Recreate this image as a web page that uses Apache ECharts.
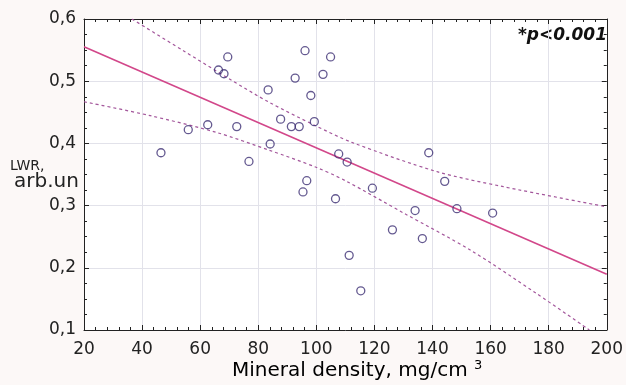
<!DOCTYPE html>
<html>
<head>
<meta charset="utf-8">
<script src="https://cdn.jsdelivr.net/npm/echarts@6/dist/echarts.min.js"></script>
<style>
  html, body { margin: 0; padding: 0; background: #fcf8f7; }
  #chart { width: 626px; height: 385px; }
</style>
</head>
<body>
<div id="chart"></div>
<script>
// 数据：矿物密度 vs LWR
var density = [46.5, 55.9, 62.6, 66.3, 68.2, 69.5, 72.6, 76.8, 83.4, 84.1, 87.7, 91.4,
  92.7, 94.1, 96.1, 98.1, 99.3, 102.3, 104.9, 107.7, 110.6, 96.7, 95.4, 106.6,
  119.3, 126.2, 111.3, 115.3, 134.0, 136.5, 144.2, 148.4, 160.7, 138.7];
var lwr = [0.385, 0.422, 0.430, 0.518, 0.512, 0.539, 0.427, 0.371, 0.486, 0.399, 0.439, 0.427,
  0.505, 0.427, 0.549, 0.477, 0.435, 0.511, 0.539, 0.383, 0.370, 0.340, 0.322, 0.311,
  0.328, 0.261, 0.220, 0.163, 0.292, 0.247, 0.339, 0.295, 0.288, 0.385];

// 回归线（两端点）
var fitX = [20, 200];
var fitY = [0.5555, 0.1895];

// 置信带
var upperX = [36.5, 54.2, 70.1, 83.8, 99.7, 112.2, 141.6, 164.4, 200];
var upperY = [0.6, 0.549, 0.5035, 0.466, 0.4285, 0.4017, 0.3545, 0.3304, 0.298];
var lowerX = [20, 42.8, 65.5, 83.8, 99.7, 110, 130.2, 153, 175.7, 194];
var lowerY = [0.467, 0.4446, 0.4178, 0.389, 0.362, 0.340, 0.2876, 0.2286, 0.159, 0.1];

function pairs(xs, ys) {
  return xs.map(function (x, i) { return [x, ys[i]]; });
}

var chart = echarts.init(document.getElementById('chart'));

var font = 'DejaVu Sans';
var axisColor = '#222';
var gridColor = '#e2e2ea';

function xAx(pos, labels) {
  return {
    type: 'value', position: pos, min: 20, max: 200, interval: 20,
    axisLine: { show: true, onZero: false, lineStyle: { color: axisColor, width: 1 } },
    axisTick: { show: true, inside: true, length: 5, lineStyle: { color: axisColor } },
    minorTick: { show: true, splitNumber: 5, length: 3, lineStyle: { color: axisColor } },
    axisLabel: { show: labels, color: '#222', fontFamily: font, fontSize: 17, margin: 11 },
    splitLine: { show: labels, lineStyle: { color: gridColor } }
  };
}

function yAx(pos, labels) {
  return {
    type: 'value', position: pos, min: 0.1, max: 0.6, interval: 0.1,
    axisLine: { show: true, onZero: false, lineStyle: { color: axisColor, width: 1 } },
    axisTick: { show: true, inside: true, length: 5, lineStyle: { color: axisColor } },
    minorTick: { show: true, splitNumber: 4, length: 3, lineStyle: { color: axisColor } },
    axisLabel: {
      show: labels, color: '#222', fontFamily: font, fontSize: 17, margin: 8,
      formatter: function (v) { return v.toFixed(1).replace('.', ','); }
    },
    splitLine: { show: labels, lineStyle: { color: gridColor } }
  };
}

var option = {
  backgroundColor: '#fcf8f7',
  animation: false,
  grid: { left: 84, right: 15, top: 19, bottom: 55, show: true, backgroundColor: '#fff', borderWidth: 0 },
  xAxis: [xAx('bottom', true), xAx('top', false)],
  yAxis: [yAx('left', true), yAx('right', false)],
  graphic: [
    { type: 'text', left: 10, top: 159, style: { text: 'LWR,', font: '14px DejaVu Sans', fill: '#222' } },
    { type: 'text', left: 14, top: 172, style: { text: 'arb.un', font: '20px DejaVu Sans', fill: '#222' } },
    {
      type: 'text', left: 232, top: 359,
      style: {
        text: '{a|Mineral density, mg/cm }{s|3}',
        rich: {
          a: { fontFamily: font, fontSize: 20, color: '#222' },
          s: { fontFamily: font, fontSize: 13, color: '#222', verticalAlign: 'top', padding: [0, 0, 10, 0] }
        }
      }
    },
    {
      type: 'text', right: 19, top: 27,
      style: { text: '*p<0.001', font: 'italic bold 17px DejaVu Sans', fill: '#111' }
    }
  ],
  series: [
    {
      name: 'fit', type: 'line', data: pairs(fitX, fitY), showSymbol: false,
      lineStyle: { color: '#d2478a', width: 1.6 }, z: 2
    },
    {
      name: 'upper', type: 'line', data: pairs(upperX, upperY), showSymbol: false, smooth: 0.3,
      lineStyle: { color: '#a3569b', width: 1.2, type: [3, 3] }, z: 2
    },
    {
      name: 'lower', type: 'line', data: pairs(lowerX, lowerY), showSymbol: false, smooth: 0.3,
      lineStyle: { color: '#a3569b', width: 1.2, type: [3, 3] }, z: 2
    },
    {
      name: 'points', type: 'scatter', data: pairs(density, lwr), symbol: 'circle', symbolSize: 8,
      itemStyle: { color: 'rgba(255,255,255,0)', borderColor: '#3d2f74', borderWidth: 1.3 }, z: 3
    }
  ]
};

chart.setOption(option);
</script>
</body>
</html>
